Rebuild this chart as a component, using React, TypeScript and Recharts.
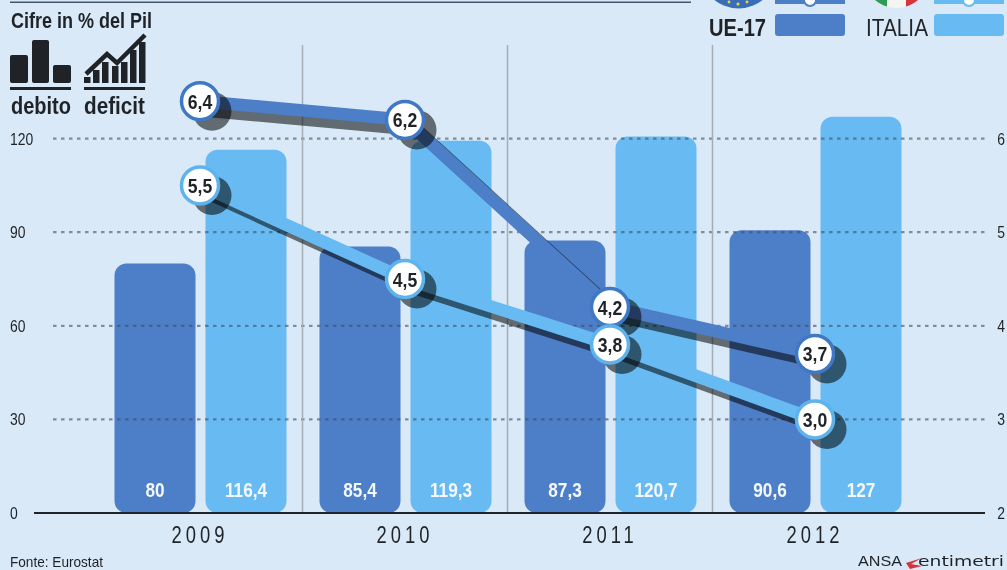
import React from 'react';
import { Bar, CartesianGrid, ComposedChart, LabelList, Line, XAxis, YAxis } from 'recharts';

const years = ['2009', '2010', '2011', '2012'];
const debtEu = [80, 85.4, 87.3, 90.6];
const debtItaly = [116.4, 119.3, 120.7, 127];
const deficitEu = [6.4, 6.2, 4.2, 3.7];
const deficitItaly = [5.5, 4.5, 3.8, 3.0];
const debtTicks = [0, 30, 60, 90, 120];
const deficitTicks = [2, 3, 4, 5, 6];

const rows = years.map((year, i) => ({
  year,
  debtEu: debtEu[i],
  debtItaly: debtItaly[i],
  deficitEu: deficitEu[i],
  deficitItaly: deficitItaly[i],
}));

const BG = '#d9e9f8';
const EU = '#4d7ec8';
const IT = '#68bbf2';
const INK = '#1f2226';
const SHADOW = '#737575';
const SANS = '"Liberation Sans", Arial, sans-serif';
const SHIFT = 'translate(12px, 10px)';

const comma = (v: number) => String(v).replace('.', ',');
const oneDecimal = (v: number) => v.toFixed(1).replace('.', ',');

// Liberation Sans squeezed horizontally stands in for the condensed grotesque of the graphic.
function Squeezed({ x, y, squeeze = 0.8, anchor = 'middle', children, ...rest }: any) {
  return (
    <text transform={`translate(${x} ${y}) scale(${squeeze} 1)`} textAnchor={anchor} fontFamily={SANS} fill={INK} {...rest}>
      {children}
    </text>
  );
}

function BarValue({ x, y, width, height, value }: any) {
  return (
    <Squeezed x={x + width / 2} y={y + height - 16} squeeze={0.82} fill="#f4f8fc" fontWeight={700} fontSize={21}>
      {comma(value)}
    </Squeezed>
  );
}

const badge = (ring: string) => (props: any) => {
  const { cx, cy, value, index } = props;
  return (
    <g key={index}>
      <circle cx={cx} cy={cy} r={18.5} fill="#fff" stroke={ring} strokeWidth={3.5} />
      <Squeezed x={cx} y={cy + 7.5} squeeze={0.84} fontWeight={700} fontSize={21}>
        {oneDecimal(value)}
      </Squeezed>
    </g>
  );
};

const shadowDot = (props: any) => (
  <circle key={props.index} cx={props.cx} cy={props.cy} r={19.5} fill={SHADOW}
    style={{ transform: SHIFT, mixBlendMode: 'multiply' }} />
);

function GridRow({ y1 }: any) {
  if (y1 > 500 || y1 < 60) return null;
  return <line x1={53} x2={987} y1={y1} y2={y1} stroke="#44505e" strokeOpacity={0.6} strokeWidth={2.2} strokeDasharray="3.5 4.5" />;
}

const sideTick = (x: number, anchor: string) => ({ y, payload }: any) => (
  <Squeezed x={x} y={y + 6} anchor={anchor} squeeze={0.82} fontSize={17}>{payload.value}</Squeezed>
);

function YearTick({ x, y, payload }: any) {
  return (
    <Squeezed x={x} y={y + 22} squeeze={0.8} fontSize={23} letterSpacing={5}>{payload.value}</Squeezed>
  );
}

// Heading, legend, pictograms and credits around the plot.
function Furniture() {
  const deficitBars = [[84, 77], [93, 70], [102, 62], [112, 66], [121, 62], [130, 50], [139, 42]];
  return (
    <svg width={1007} height={570} style={{ position: 'absolute', left: 0, top: 0, pointerEvents: 'none' }}>
      <defs>
        <clipPath id="flag-it"><circle cx={896.5} cy={-25} r={33} /></clipPath>
      </defs>
      <rect x={10} y={1.5} width={681} height={1.5} fill="#46566a" />
      <text x={11} y={28} fill={INK} fontFamily={SANS} fontWeight={700} fontSize={22} textLength={141} lengthAdjust="spacingAndGlyphs">Cifre in % del Pil</text>

      <rect x={10} y={55} width={18} height={28} rx={2} fill={INK} />
      <rect x={32} y={40} width={17} height={43} rx={2} fill={INK} />
      <rect x={53} y={65} width={18} height={18} rx={2} fill={INK} />
      <rect x={10} y={87} width={61} height={3} fill={INK} />
      {deficitBars.map(([x, top]) => <rect key={x} x={x} y={top} width={6.5} height={83 - top} fill={INK} />)}
      <polyline points="86,74 107,54 117,63 145,35" fill="none" stroke={INK} strokeWidth={4.5} />
      <rect x={84} y={87} width={61} height={3} fill={INK} />
      <text x={11} y={114} fill={INK} fontFamily={SANS} fontWeight={700} fontSize={24} textLength={60} lengthAdjust="spacingAndGlyphs">debito</text>
      <text x={84} y={114} fill={INK} fontFamily={SANS} fontWeight={700} fontSize={24} textLength={61} lengthAdjust="spacingAndGlyphs">deficit</text>

      <circle cx={738.5} cy={-30} r={38.5} fill="#3a6db8" />
      <circle cx={738} cy={4} r={1.6} fill="#f2d23c" />
      <circle cx={729} cy={2} r={1.4} fill="#f2d23c" />
      <circle cx={747} cy={2} r={1.4} fill="#f2d23c" />
      <rect x={775} y={0} width={70} height={4} fill={EU} />
      <circle cx={810} cy={0} r={6} fill="#fff" stroke={EU} strokeWidth={2} />
      <rect x={775} y={14} width={70} height={22} rx={3} fill={EU} />
      <text x={709} y={36} fill={INK} fontFamily={SANS} fontWeight={700} fontSize={24} textLength={57} lengthAdjust="spacingAndGlyphs">UE-17</text>

      <g clipPath="url(#flag-it)">
        <rect x={870} y={0} width={17} height={9} fill="#2e9a52" />
        <rect x={887} y={0} width={19} height={9} fill="#f4f4f0" />
        <rect x={906} y={0} width={14} height={9} fill="#d4343a" />
      </g>
      <rect x={934} y={0} width={70} height={4} fill={IT} />
      <circle cx={969} cy={0} r={6} fill="#fff" stroke={IT} strokeWidth={2} />
      <rect x={934} y={14} width={70} height={22} rx={3} fill={IT} />
      <text x={866} y={36} fill={INK} fontFamily={SANS} fontSize={24} textLength={62} lengthAdjust="spacingAndGlyphs">ITALIA</text>

      <text x={10} y={567} fill={INK} fontFamily={SANS} fontSize={15} textLength={93} lengthAdjust="spacingAndGlyphs">Fonte: Eurostat</text>
      <text x={858} y={566} fill={INK} fontFamily={SANS} fontSize={14} textLength={44} lengthAdjust="spacingAndGlyphs">ANSA</text>
      <path d="M906 563 L922 558 L911 564 L922 566 L910 569 Z" fill="#d4343a" />
      <text x={918} y={566} fill={INK} fontFamily={'"DejaVu Sans", sans-serif'} fontSize={14} textLength={86} lengthAdjust="spacingAndGlyphs">entimetri</text>
    </svg>
  );
}

export default function App() {
  return (
    <div style={{ position: 'absolute', left: 0, top: 0, width: 1007, height: 570, background: BG, overflow: 'hidden' }}>
      <style>{`.cast-shadow { transform: ${SHIFT}; mix-blend-mode: multiply; }`}</style>
      <ComposedChart width={1007} height={570} data={rows} barSize={81} barGap={10}
        margin={{ top: 45, right: 0, bottom: 0, left: 0 }}>
        <XAxis dataKey="year" xAxisId="x" height={57} padding={{ left: 63.5, right: 67.5 }}
          axisLine={{ stroke: INK, strokeWidth: 2 }} tickLine={false} tick={<YearTick />} interval={0} />
        <YAxis yAxisId="debt" orientation="left" width={34} domain={[0, 150]} ticks={debtTicks}
          axisLine={false} tickLine={false} tick={sideTick(10, 'start')} />
        <YAxis yAxisId="deficit" orientation="right" width={22} domain={[2, 7]} ticks={deficitTicks}
          axisLine={false} tickLine={false} tick={sideTick(1001, 'middle')} />
        <Bar xAxisId="x" yAxisId="debt" dataKey="debtEu" fill={EU} radius={12} isAnimationActive={false}>
          <LabelList dataKey="debtEu" content={<BarValue />} />
        </Bar>
        <Bar xAxisId="x" yAxisId="debt" dataKey="debtItaly" fill={IT} radius={12} isAnimationActive={false}>
          <LabelList dataKey="debtItaly" content={<BarValue />} />
        </Bar>
        <CartesianGrid xAxisId="x" yAxisId="debt" zIndex={350} horizontal={(p: any) => <GridRow key={p.y1} {...p} />}
          verticalPoints={[302.5, 507.5, 712.5]} stroke="#a6adb3" strokeWidth={1.5} />
        <Line xAxisId="x" yAxisId="deficit" dataKey="deficitEu" className="cast-shadow" stroke={SHADOW} strokeWidth={12.5}
          dot={shadowDot} activeDot={false} isAnimationActive={false} legendType="none" />
        <Line xAxisId="x" yAxisId="deficit" dataKey="deficitEu" stroke={EU} strokeWidth={12.5}
          dot={badge('#3f78c4')} activeDot={false} isAnimationActive={false} />
        <Line xAxisId="x" yAxisId="deficit" dataKey="deficitItaly" className="cast-shadow" stroke={SHADOW} strokeWidth={12.5}
          dot={shadowDot} activeDot={false} isAnimationActive={false} legendType="none" />
        <Line xAxisId="x" yAxisId="deficit" dataKey="deficitItaly" stroke={IT} strokeWidth={12.5}
          dot={badge('#5fb3ec')} activeDot={false} isAnimationActive={false} />
      </ComposedChart>
      <Furniture />
    </div>
  );
}
